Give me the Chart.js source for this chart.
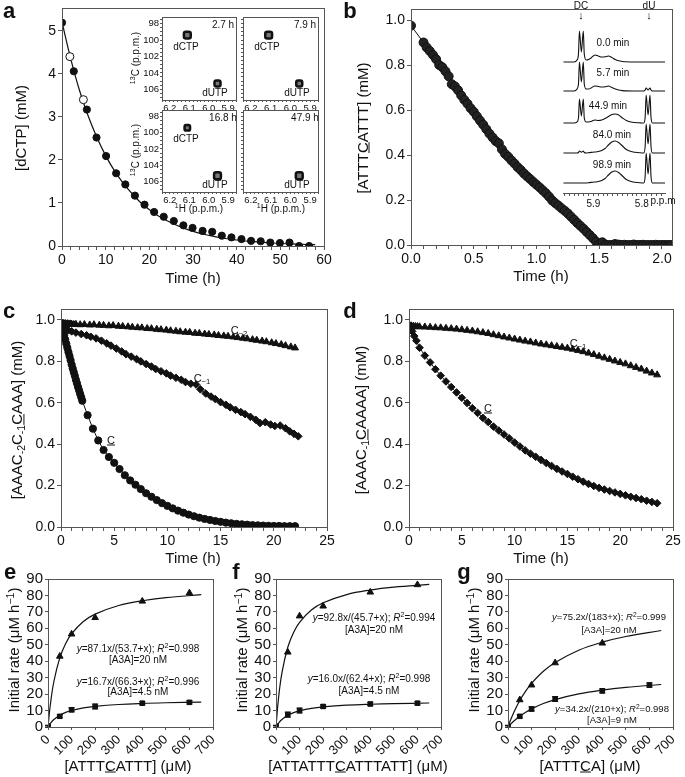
<!DOCTYPE html>
<html>
<head>
<meta charset="utf-8">
<script src="https://cdn.jsdelivr.net/npm/chart.js@4.4.0/dist/chart.umd.min.js"></script>
<style>
body { margin: 0; background: #fff; }
#page { position: relative; width: 685px; height: 777px; overflow: hidden; font-family: "Liberation Sans", Arial, sans-serif; color: #111; }
canvas { position: absolute; left: 0; top: 0; }
.t { position: absolute; white-space: nowrap; transform: translate(-50%, -50%); line-height: 1; z-index: 5; }
.rot { transform: translate(-50%, -50%) rotate(-90deg); }
.t sub { font-size: 0.7em; vertical-align: -0.25em; }
.t sup { font-size: 0.7em; vertical-align: 0.5em; }
.b { font-weight: bold; }
</style>
</head>
<body>
<div id="page"></div>
<script>
// panel a: dCTP deamination
const aT = [0, 2.7, 5.7, 7.9, 10.1, 12.4, 14.5, 16.7, 18.9, 21.1, 23.3, 25.6, 27.8, 29.9, 32.2, 34.4, 36.6, 38.8, 41.1, 43.3, 45.5, 47.7, 49.9, 52.1, 54.3, 56.6];
const aY = [5.19, 4.06, 3.17, 2.52, 2.09, 1.69, 1.43, 1.17, 0.96, 0.79, 0.68, 0.58, 0.48, 0.42, 0.35, 0.33, 0.24, 0.20, 0.16, 0.12, 0.11, 0.08, 0.07, 0.08, 0.0, 0.0];
const aOpenT = [1.8, 4.9];
const aOpenY = [4.4, 3.4];
const aFitT = [0, 2, 4, 6, 8, 10, 12, 14, 16, 18, 20, 22, 25, 28, 31, 34, 37, 40, 44, 48, 52, 56, 58];
const aFitY = [5.2, 4.35, 3.62, 3.02, 2.52, 2.1, 1.75, 1.46, 1.22, 1.01, 0.845, 0.705, 0.54, 0.41, 0.31, 0.24, 0.18, 0.14, 0.1, 0.07, 0.05, 0.035, 0.03];

// panel a insets (HSQC spots)
const insetTimes = ['2.7 h', '7.9 h', '16.8 h', '47.9 h'];
const spotH = [6.11, 5.955];      // dCTP, dUTP 1H shift
const spotC = [99.4, 105.3];      // dCTP, dUTP 13C shift
const dctpSize = [4, 4, 3.2, 0];
const dutpSize = [3.5, 3.5, 4, 4];

// panel b: ATTTCATTT
const bT = [0, 0.1, 0.125, 0.15, 0.175, 0.2, 0.225, 0.25, 0.275, 0.3, 0.325, 0.35, 0.375, 0.4, 0.425, 0.45, 0.475, 0.5, 0.525, 0.55, 0.575, 0.6, 0.625, 0.65, 0.675, 0.7, 0.725, 0.75, 0.775, 0.8, 0.825, 0.85, 0.875, 0.9, 0.925, 0.95, 0.975, 1.0, 1.025, 1.05, 1.075, 1.1, 1.125, 1.15, 1.175, 1.2, 1.225, 1.25, 1.275, 1.3, 1.325, 1.35, 1.375, 1.4, 1.425, 1.45, 1.475, 1.5, 1.525, 1.55, 1.575, 1.6, 1.625, 1.65, 1.675, 1.7, 1.725, 1.75, 1.775, 1.8, 1.825, 1.85, 1.875, 1.9, 1.925, 1.95, 1.975, 2.0, 2.025, 2.05, 2.07];
const bY = [0.975, 0.900, 0.878, 0.862, 0.845, 0.826, 0.800, 0.790, 0.772, 0.750, 0.715, 0.705, 0.688, 0.665, 0.645, 0.628, 0.608, 0.592, 0.572, 0.553, 0.535, 0.515, 0.495, 0.478, 0.462, 0.452, 0.425, 0.405, 0.392, 0.376, 0.362, 0.346, 0.333, 0.318, 0.305, 0.293, 0.280, 0.268, 0.256, 0.243, 0.230, 0.215, 0.198, 0.186, 0.175, 0.163, 0.152, 0.140, 0.126, 0.112, 0.098, 0.085, 0.072, 0.058, 0.044, 0.030, 0.015, 0.003, 0.012, 0.002, 0, 0, 0.004, 0.002, 0, 0.001, 0, 0, 0.002, 0, 0, 0.001, 0, 0, 0, 0.001, 0, 0, 0, 0, 0];

// panel b inset: 1D spectra
const specPpm = [5.962, 5.94, 5.934, 5.931, 5.929, 5.925, 5.921, 5.919, 5.915, 5.91, 5.905, 5.897, 5.89, 5.883, 5.876, 5.869, 5.862, 5.855, 5.848, 5.84, 5.832, 5.82, 5.805, 5.796, 5.793, 5.791, 5.787, 5.783, 5.781, 5.778, 5.77, 5.752];
const specLabels = ['0.0 min', '5.7 min', '44.9 min', '84.0 min', '98.9 min'];
const specOffset = [131, 102, 70, 40, 10];
const spec0 = [0, 0, 2, 8, 31, 10, 31, 8, 2, 2.5, 4, 7, 6, 5, 5.2, 6, 4.5, 2.5, 1.2, 0.5, 0.2, 0, 0, 0, 0, 0, 0, 0, 0, 0, 0, 0];
const spec1 = [0, 0, 2, 7, 29, 9, 29, 7, 2, 2, 3, 5, 4.5, 4, 4.2, 5, 3.5, 2, 1, 0.4, 0.1, 0, 0, 0, 1, 3, 1, 3, 1, 0, 0, 0];
const spec2 = [0, 0, 1, 5, 24, 7, 24, 5, 1, 1, 1.5, 3, 2.5, 3, 4.5, 6.5, 8.5, 9, 8, 5, 2.5, 0.8, 0.2, 0, 6, 28, 8, 28, 6, 0, 0, 0];
const spec3 = [0, 0, 0, 0.5, 2, 0.8, 2, 0.5, 0, 0.3, 0.6, 1, 1.5, 2.5, 4.5, 8, 11, 12, 10.5, 7, 3.5, 1.2, 0.3, 0, 7, 29, 9, 29, 7, 0, 0, 0];
const spec4 = [0, 0, 0, 0, 0, 0, 0, 0, 0, 0.3, 0.6, 1, 1.5, 2.5, 4.5, 8, 11, 12, 10.5, 7, 3.5, 1.2, 0.3, 0, 7, 30, 9, 30, 7, 0, 0, 0];

// panel c
const cTriT = [0, 0.1, 0.2, 0.3, 0.4, 0.5, 0.6, 0.7, 0.8, 0.9, 1.0, 1.2, 1.4, 1.8, 2.2, 2.7, 3.1, 3.6, 4.0, 4.5, 4.9, 5.4, 5.8, 6.3, 6.7, 7.2, 7.6, 8.1, 8.5, 9.0, 9.4, 9.9, 10.3, 10.8, 11.2, 11.7, 12.1, 12.6, 13.0, 13.5, 13.9, 14.4, 14.8, 15.3, 15.7, 16.2, 16.6, 17.1, 17.5, 18.0, 18.4, 18.9, 19.3, 19.8, 20.2, 20.7, 21.1, 21.6, 22.0];
const cTriY = [0.985, 0.982, 0.984, 0.981, 0.983, 0.980, 0.982, 0.981, 0.979, 0.981, 0.980, 0.978, 0.979, 0.977, 0.978, 0.976, 0.977, 0.975, 0.974, 0.972, 0.973, 0.970, 0.969, 0.967, 0.965, 0.963, 0.962, 0.959, 0.958, 0.955, 0.953, 0.951, 0.948, 0.946, 0.943, 0.941, 0.940, 0.936, 0.935, 0.932, 0.930, 0.928, 0.925, 0.923, 0.921, 0.918, 0.915, 0.912, 0.909, 0.905, 0.902, 0.898, 0.895, 0.890, 0.886, 0.881, 0.876, 0.870, 0.865];
const cDiaT = [0, 0.1, 0.2, 0.3, 0.4, 0.5, 0.7, 1.0, 1.4, 1.9, 2.4, 2.8, 3.3, 3.8, 4.3, 4.7, 5.2, 5.7, 6.1, 6.6, 7.1, 7.5, 8.0, 8.5, 8.9, 9.4, 9.9, 10.3, 10.8, 11.3, 11.7, 12.2, 12.7, 13.1, 13.6, 14.1, 14.5, 15.0, 15.5, 15.9, 16.4, 16.9, 17.3, 17.8, 18.3, 18.7, 19.2, 19.7, 20.1, 20.6, 21.1, 21.5, 21.9, 22.3];
const cDiaY = [0.98, 0.975, 0.968, 0.962, 0.958, 0.953, 0.950, 0.945, 0.939, 0.932, 0.926, 0.919, 0.911, 0.900, 0.887, 0.876, 0.862, 0.848, 0.835, 0.823, 0.811, 0.800, 0.787, 0.775, 0.763, 0.752, 0.742, 0.731, 0.721, 0.711, 0.700, 0.692, 0.688, 0.665, 0.645, 0.630, 0.618, 0.603, 0.590, 0.578, 0.566, 0.555, 0.545, 0.532, 0.518, 0.502, 0.506, 0.495, 0.488, 0.490, 0.477, 0.462, 0.450, 0.438];
const cCirT = [0, 0.1, 0.2, 0.3, 0.4, 0.5, 0.6, 0.7, 0.8, 0.9, 1.0, 1.1, 1.2, 1.3, 1.4, 1.5, 1.6, 1.7, 1.8, 1.9, 2.0, 2.5, 3.0, 3.5, 4.0, 4.5, 5.0, 5.5, 6.0, 6.5, 7.0, 7.5, 8.0, 8.5, 9.0, 9.5, 10.0, 10.5, 11.0, 11.5, 12.0, 12.5, 13.0, 13.5, 14.0, 14.5, 15.0, 15.5, 16.0, 16.5, 17.0, 17.5, 18.0, 18.5, 19.0, 19.5, 20.0, 20.5, 21.0, 21.5, 22.0];
const cCirY = [0.985, 0.965, 0.945, 0.925, 0.905, 0.885, 0.865, 0.845, 0.826, 0.806, 0.785, 0.766, 0.748, 0.73, 0.711, 0.694, 0.676, 0.66, 0.643, 0.627, 0.61, 0.54, 0.475, 0.418, 0.372, 0.338, 0.31, 0.28, 0.25, 0.225, 0.204, 0.183, 0.163, 0.146, 0.13, 0.115, 0.102, 0.09, 0.079, 0.069, 0.06, 0.052, 0.045, 0.039, 0.034, 0.029, 0.025, 0.021, 0.018, 0.015, 0.013, 0.011, 0.009, 0.008, 0.007, 0.006, 0.005, 0.005, 0.004, 0.004, 0.004];

// panel d
const dTriT = [0, 0.2, 0.4, 0.6, 0.8, 1.0, 1.5, 2.0, 2.5, 3.0, 3.5, 4.0, 4.5, 5.0, 5.5, 6.0, 6.5, 7.0, 7.5, 8.0, 8.5, 9.0, 9.5, 10.0, 10.5, 11.0, 11.5, 12.0, 12.5, 13.0, 13.5, 14.0, 14.5, 15.0, 15.5, 16.0, 16.5, 17.0, 17.5, 18.0, 18.5, 19.0, 19.5, 20.0, 20.5, 21.0, 21.5, 22.0, 22.5, 23.0, 23.5];
const dTriY = [0.975, 0.972, 0.97, 0.969, 0.968, 0.967, 0.966, 0.965, 0.963, 0.962, 0.960, 0.958, 0.956, 0.953, 0.950, 0.947, 0.943, 0.939, 0.935, 0.929, 0.924, 0.918, 0.913, 0.908, 0.903, 0.898, 0.894, 0.889, 0.884, 0.880, 0.876, 0.872, 0.868, 0.864, 0.859, 0.853, 0.847, 0.840, 0.833, 0.825, 0.817, 0.810, 0.802, 0.795, 0.788, 0.779, 0.771, 0.763, 0.753, 0.744, 0.735];
const dDiaT = [0, 0.1, 0.2, 0.3, 0.5, 0.7, 1.0, 1.5, 2.0, 2.5, 3.0, 3.5, 4.0, 4.5, 5.0, 5.5, 6.0, 6.5, 7.0, 7.5, 8.0, 8.5, 9.0, 9.5, 10.0, 10.5, 11.0, 11.5, 12.0, 12.5, 13.0, 13.5, 14.0, 14.5, 15.0, 15.5, 16.0, 16.5, 17.0, 17.5, 18.0, 18.5, 19.0, 19.5, 20.0, 20.5, 21.0, 21.5, 22.0, 22.5, 23.0, 23.5];
const dDiaY = [0.975, 0.965, 0.955, 0.945, 0.922, 0.9, 0.866, 0.828, 0.795, 0.762, 0.731, 0.703, 0.676, 0.65, 0.624, 0.599, 0.574, 0.551, 0.527, 0.507, 0.485, 0.466, 0.447, 0.428, 0.408, 0.389, 0.37, 0.354, 0.339, 0.324, 0.309, 0.295, 0.281, 0.268, 0.256, 0.243, 0.231, 0.219, 0.208, 0.198, 0.189, 0.181, 0.174, 0.167, 0.16, 0.153, 0.146, 0.14, 0.134, 0.127, 0.121, 0.115];

// panels e-g: Michaelis-Menten
const mmConc = [0, 50, 100, 200, 400, 600];
const mmFitX = [0, 10, 25, 50, 75, 100, 150, 200, 300, 400, 500, 650];
const eHighY = [null, 43, 56.5, 66.5, 76.5, 81.5];
const eLowY = [0.5, 6.5, 10.5, 12.5, 14.5, 15];
const eLowErr = [0.5, 1, 1.3, 1.5, 1, 1];
const eHighFit = [0, 13.67, 27.67, 42.0, 50.76, 56.67, 64.14, 68.66, 73.88, 76.79, 78.65, 80.45];
const eLowFit = [0, 2.19, 4.57, 7.18, 8.86, 10.04, 11.58, 12.54, 13.68, 14.33, 14.74, 15.15];
const fHighY = [null, 45.5, 67.5, 73.5, 82, 86.5];
const fLowY = [0.5, 7.5, 10, 12.5, 14, 14.5];
const fLowErr = [0.5, 1.5, 1.5, 1, 1, 1];
const fHighFit = [0, 16.66, 32.81, 48.49, 57.66, 63.69, 71.13, 75.54, 80.53, 83.28, 85.03, 86.7];
const fLowFit = [0, 2.21, 4.58, 7.12, 8.73, 9.85, 11.3, 12.2, 13.25, 13.84, 14.22, 14.6];
const gHighY = [null, 16.5, 25.5, 39, 51, null];
const gLowY = [0.5, 6.5, 11, 17, 22, 25.5];
const gLowErr = [0.5, 1, 1.3, 1.5, 1.2, 1.3];
const gHighFit = [0, 3.9, 9.04, 16.14, 21.86, 26.57, 33.87, 39.27, 46.71, 51.59, 55.05, 58.68];
const gLowFit = [0, 1.55, 3.64, 6.58, 9.0, 11.03, 14.25, 16.68, 20.12, 22.43, 24.08, 25.85];

const W = 685, H = 777;
const family = '"Liberation Sans", Arial, Helvetica, sans-serif';
const ink = '#111';
const axisGrey = '#555';
Chart.defaults.font.family = family;
Chart.defaults.color = ink;

const page = document.getElementById('page');

const framePlugin = {
  id: 'frame',
  afterDraw(chart, args, opts) {
    if (opts.show === false) return;
    const a = chart.chartArea, ctx = chart.ctx;
    ctx.save();
    ctx.strokeStyle = axisGrey;
    ctx.lineWidth = 1;
    ctx.strokeRect(Math.round(a.left) + 0.5, Math.round(a.top) + 0.5,
      Math.round(a.right - a.left), Math.round(a.bottom - a.top));
    ctx.restore();
  }
};

const errorBarPlugin = {
  id: 'errorBars',
  afterDatasetsDraw(chart) {
    const ctx = chart.ctx, ys = chart.scales.y;
    chart.data.datasets.forEach((ds, i) => {
      if (!ds.errors) return;
      const meta = chart.getDatasetMeta(i);
      ctx.save();
      ctx.strokeStyle = ink;
      ctx.lineWidth = 1.2;
      meta.data.forEach((pt, j) => {
        const e = ds.errors[j];
        const v = ds.data[j].y;
        if (!e || v == null) return;
        const y1 = ys.getPixelForValue(v - e), y2 = ys.getPixelForValue(v + e);
        ctx.beginPath();
        ctx.moveTo(pt.x, y1); ctx.lineTo(pt.x, y2);
        ctx.moveTo(pt.x - 3, y1); ctx.lineTo(pt.x + 3, y1);
        ctx.moveTo(pt.x - 3, y2); ctx.lineTo(pt.x + 3, y2);
        ctx.stroke();
      });
      ctx.restore();
    });
  }
};
Chart.register(framePlugin, errorBarPlugin);

function isMult(v, m) {
  return Math.abs(v / m - Math.round(v / m)) < 1e-6;
}

function axis(min, max, step, major, size, fmt, extra) {
  return Object.assign({
    type: 'linear', min: min, max: max,
    grid: { drawOnChartArea: false, drawTicks: true, tickLength: 4, color: axisGrey },
    border: { color: axisGrey },
    ticks: {
      stepSize: step, autoSkip: false, includeBounds: false, maxRotation: 0, minRotation: 0, padding: 2,
      color: ink, font: { size: size, family: family },
      callback: v => (major && isMult(v, major)) ? fmt(v) : ''
    },
    afterBuildTicks: s => { s.ticks = s.ticks.filter(t => isMult(t.value, step)); }
  }, extra || {});
}

const f0 = v => String(Math.round(v));
const f1 = v => v.toFixed(1);

function makeChart(box, ml, mb, xs, ys, datasets, frame) {
  const c = document.createElement('canvas');
  c.width = W; c.height = H;
  c.style.width = W + 'px'; c.style.height = H + 'px';
  page.appendChild(c);
  xs.afterFit = s => { s.height = mb; s.paddingLeft = 0; s.paddingRight = 0; };
  ys.afterFit = s => { s.width = ml; s.paddingTop = 0; s.paddingBottom = 0; };
  return new Chart(c.getContext('2d'), {
    type: 'scatter',
    data: { datasets: datasets },
    options: {
      responsive: false, animation: false, events: [],
      layout: { padding: { left: box.l - ml, right: W - box.r, top: box.t, bottom: H - box.b - mb } },
      scales: { x: xs, y: ys },
      plugins: { legend: { display: false }, tooltip: { enabled: false }, frame: { show: frame !== false } }
    }
  });
}

function pts(xArr, yArr) {
  return xArr.map((x, i) => ({ x: x, y: yArr[i] }));
}
function markers(data, style, r, fill, line) {
  return {
    data: data, pointStyle: style, pointRadius: r, backgroundColor: fill || ink,
    borderColor: ink, borderWidth: 1, showLine: !!line, tension: 0
  };
}
function curve(data, w, tension) {
  return { data: data, showLine: true, pointRadius: 0, borderColor: ink, borderWidth: w, tension: tension, fill: false };
}

function txt(x, y, html, size, cls) {
  const d = document.createElement('div');
  d.className = 't' + (cls ? ' ' + cls : '');
  d.style.left = x + 'px';
  d.style.top = y + 'px';
  d.style.fontSize = size + 'px';
  d.innerHTML = html;
  page.appendChild(d);
}

// ---- panel a ----
makeChart({ l: 62, r: 324, t: 8, b: 246 }, 20, 24,
  axis(0, 60, 2, 10, 14, f0),
  axis(0, 5.53, 1, 1, 14, f0),
  [
    markers(pts(aOpenT, aOpenY), 'circle', 4, '#fff'),
    markers(pts(aT, aY), 'circle', 3.6),
    curve(pts(aFitT, aFitY), 1.2, 0.4)
  ]);

const insetBoxes = [
  { l: 162, r: 236, t: 17, b: 100 },
  { l: 243, r: 318, t: 17, b: 100 },
  { l: 162, r: 236, t: 110, b: 192 },
  { l: 243, r: 318, t: 110, b: 192 }
];
insetBoxes.forEach((box, i) => {
  const left = i % 2 === 0;
  const ds = [];
  if (dctpSize[i] > 0) {
    ds.push({ data: [{ x: spotH[0], y: spotC[0] }], pointStyle: 'rectRounded', pointRadius: dctpSize[i],
      backgroundColor: '#777', borderColor: ink, borderWidth: 2.5 });
  }
  ds.push({ data: [{ x: spotH[1], y: spotC[1] }], pointStyle: 'rectRounded', pointRadius: dutpSize[i],
    backgroundColor: '#777', borderColor: ink, borderWidth: 2.5 });
  const xs = axis(5.86, 6.24, 0.02, 0.1, 9.5, f1, { reverse: true });
  xs.grid.tickLength = 2;
  xs.ticks.padding = 1;
  const ys = axis(97.2, 107.3, 0.5, left ? 2 : 0, 9.5, f0, { reverse: true });
  ys.grid.tickLength = 2;
  ys.ticks.padding = 1;
  makeChart(box, left ? 19 : 3, 12, xs, ys, ds);
  txt(box.r - 13, box.t + 8, insetTimes[i], 10);
});
txt(186, 47, 'dCTP', 10);
txt(267, 47, 'dCTP', 10);
txt(186, 139, 'dCTP', 10);
txt(215, 93, 'dUTP', 10);
txt(297, 93, 'dUTP', 10);
txt(215, 185, 'dUTP', 10);
txt(297, 185, 'dUTP', 10);
txt(135, 58, '<sup>13</sup>C (p.p.m.)', 10, 'rot');
txt(135, 150, '<sup>13</sup>C (p.p.m.)', 10, 'rot');
txt(199, 208, '<sup>1</sup>H (p.p.m.)', 10);
txt(281, 208, '<sup>1</sup>H (p.p.m.)', 10);

// ---- panel b ----
makeChart({ l: 411, r: 672, t: 9, b: 245 }, 36, 24,
  axis(0, 2.08, 0.1, 0.5, 14, f1),
  axis(0, 1.049, 0.2, 0.2, 14, f1),
  [ markers(pts(bT, bY), 'circle', 4.5, '#222', true) ]);

const specSets = [spec0, spec1, spec2, spec3, spec4].map((arr, k) =>
  Object.assign(curve(pts(specPpm, arr.map(v => v + specOffset[k])), 1.1, 0), { cubicInterpolationMode: 'monotone' }));
const specX = axis(5.752, 5.963, 0.01, 0.1, 10, f1, { reverse: true });
specX.grid.tickLength = 3;
specX.ticks.padding = 2;
makeChart({ l: 563, r: 665, t: 18, b: 193 }, 0, 16, specX,
  { display: false, min: 0, max: 175 }, specSets, false);
const specLabelPos = [[613, 43], [613, 73], [608, 106], [612, 135], [612, 165]];
specLabels.forEach((s, k) => txt(specLabelPos[k][0], specLabelPos[k][1], s, 10));
txt(581, 6, 'DC', 10);
txt(581, 15, '&#8595;', 11);
txt(649, 6, 'dU', 10);
txt(649, 15, '&#8595;', 11);
txt(663, 201, 'p.p.m', 10);

// ---- panel c ----
makeChart({ l: 61, r: 327, t: 309, b: 527 }, 36, 24,
  axis(0, 25, 1, 5, 14, f0),
  axis(0, 1.053, 0.2, 0.2, 14, f1),
  [
    markers(pts(cTriT, cTriY), 'triangle', 4, ink, true),
    markers(pts(cDiaT, cDiaY), 'rectRot', 3.8, ink, true),
    markers(pts(cCirT, cCirY), 'circle', 3.6, ink, true)
  ]);
txt(239, 331, 'C<sub>&#8722;2</sub>', 11);
txt(202, 379, 'C<sub>&#8722;1</sub>', 11);
txt(111, 440, '<u>C</u>', 11);

// ---- panel d ----
makeChart({ l: 409, r: 673, t: 309, b: 527 }, 36, 24,
  axis(0, 25, 1, 5, 14, f0),
  axis(0, 1.053, 0.2, 0.2, 14, f1),
  [
    markers(pts(dTriT, dTriY), 'triangle', 4, ink, true),
    markers(pts(dDiaT, dDiaY), 'rectRot', 3.8, ink, true)
  ]);
txt(578, 344, 'C<sub>&#8722;1</sub>', 11);
txt(488, 408, '<u>C</u>', 11);

// ---- panels e, f, g ----
function mmPanel(box, highY, lowY, lowErr, highFit, lowFit) {
  const xs = axis(0, 700, 100, 100, 13, f0);
  xs.ticks.minRotation = 45;
  xs.ticks.maxRotation = 45;
  xs.grid.tickLength = 3;
  const ys = axis(0, 90, 10, 10, 15, f0);
  ys.grid.tickLength = 3;
  makeChart(box, 28, 34, xs, ys, [
    markers(pts(mmConc, highY), 'triangle', 3.8),
    Object.assign(markers(pts(mmConc, lowY), 'rect', 3.2), { errors: lowErr }),
    curve(pts(mmFitX, highFit), 1.2, 0.4),
    curve(pts(mmFitX, lowFit), 1.2, 0.4)
  ]);
}
mmPanel({ l: 48, r: 213, t: 579, b: 727 }, eHighY, eLowY, eLowErr, eHighFit, eLowFit);
mmPanel({ l: 276, r: 441, t: 579, b: 727 }, fHighY, fLowY, fLowErr, fHighFit, fLowFit);
mmPanel({ l: 508, r: 673, t: 579, b: 727 }, gHighY, gLowY, gLowErr, gHighFit, gLowFit);

txt(138, 648, '<i>y</i>=87.1x/(53.7+x); <i>R</i><sup>2</sup>=0.998', 10);
txt(138, 660, '[A3A]=20 nM', 10);
txt(138, 681, '<i>y</i>=16.7x/(66.3+x); <i>R</i><sup>2</sup>=0.996', 10);
txt(138, 692, '[A3A]=4.5 nM', 10);
txt(374, 617, '<i>y</i>=92.8x/(45.7+x); <i>R</i><sup>2</sup>=0.994', 10);
txt(374, 630, '[A3A]=20 nM', 10);
txt(369, 678, '<i>y</i>=16.0x/(62.4+x); <i>R</i><sup>2</sup>=0.998', 10);
txt(369, 691, '[A3A]=4.5 nM', 10);
txt(609, 617, '<i>y</i>=75.2x/(183+x); <i>R</i><sup>2</sup>=0.999', 9.5);
txt(609, 630, '[A3A]=20 nM', 9.5);
txt(612, 709, '<i>y</i>=34.2x/(210+x); <i>R</i><sup>2</sup>=0.998', 9.5);
txt(612, 720, '[A3A]=9 nM', 9.5);

// axis titles and panel letters
txt(20, 128, '[dCTP] (mM)', 15, 'rot');
txt(193, 277, 'Time (h)', 15);
txt(362, 128, '[ATTT<u>C</u>ATTT] (mM)', 15, 'rot');
txt(541, 275, 'Time (h)', 15);
txt(18, 420, '[AAAC<sub>-2</sub>C<sub>-1</sub><u>C</u>AAA] (mM)', 15, 'rot');
txt(193, 557, 'Time (h)', 15);
txt(362, 420, '[AAAC<sub>-1</sub><u>C</u>AAAA] (mM)', 15, 'rot');
txt(541, 557, 'Time (h)', 15);
txt(13, 650, 'Initial rate (&#956;M h<sup>&#8722;1</sup>)', 15, 'rot');
txt(128, 765, '[ATTT<u>C</u>ATTT] (&#956;M)', 15);
txt(241, 650, 'Initial rate (&#956;M h<sup>&#8722;1</sup>)', 15, 'rot');
txt(358, 765, '[ATTATTT<u>C</u>ATTTATT] (&#956;M)', 15);
txt(473, 650, 'Initial rate (&#956;M h<sup>&#8722;1</sup>)', 15, 'rot');
txt(590, 765, '[ATTT<u>C</u>A] (&#956;M)', 15);

txt(9, 11, 'a', 22, 'b');
txt(350, 11, 'b', 22, 'b');
txt(9, 311, 'c', 22, 'b');
txt(350, 311, 'd', 22, 'b');
txt(10, 572, 'e', 22, 'b');
txt(236, 572, 'f', 22, 'b');
txt(464, 572, 'g', 22, 'b');
</script>
</body>
</html>
